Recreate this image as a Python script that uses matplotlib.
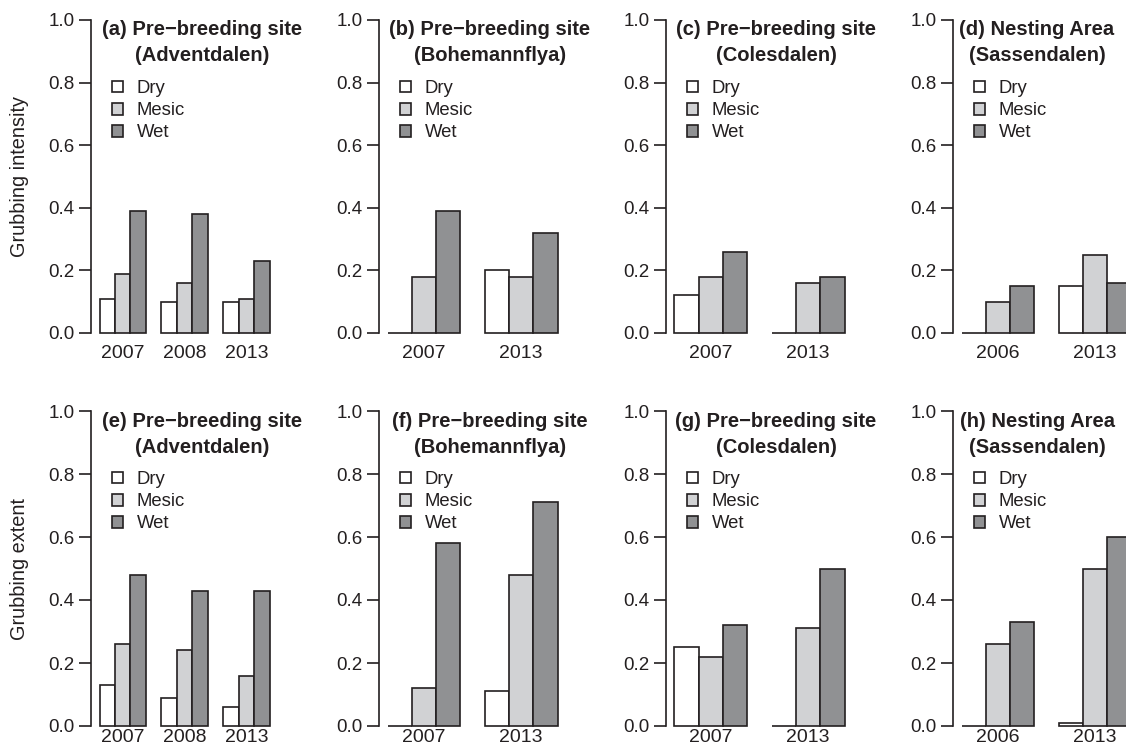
import numpy as np
import matplotlib.pyplot as plt
from matplotlib.patches import Patch

plt.rcParams['font.family'] = ['Liberation Sans', 'DejaVu Sans']

#DATA
habitats = ['Dry', 'Mesic', 'Wet']
hab_colors = ['#ffffff', '#d1d2d4', '#909193']

years_advent = ['2007', '2008', '2013']
years_bohem = ['2007', '2013']
years_coles = ['2007', '2013']
years_sassen = ['2006', '2013']

# each row is one year: [dry, mesic, wet]
intensity_advent = [[0.11, 0.19, 0.39], [0.10, 0.16, 0.38], [0.10, 0.11, 0.23]]
intensity_bohem = [[0.00, 0.18, 0.39], [0.20, 0.18, 0.32]]
intensity_coles = [[0.12, 0.18, 0.26], [0.00, 0.16, 0.18]]
intensity_sassen = [[0.00, 0.10, 0.15], [0.15, 0.25, 0.16]]

extent_advent = [[0.13, 0.26, 0.48], [0.09, 0.24, 0.43], [0.06, 0.16, 0.43]]
extent_bohem = [[0.00, 0.12, 0.58], [0.11, 0.48, 0.71]]
extent_coles = [[0.25, 0.22, 0.32], [0.00, 0.31, 0.50]]
extent_sassen = [[0.00, 0.26, 0.33], [0.01, 0.50, 0.60]]

titles_top = ['(a) Pre\u2212breeding site', '(b) Pre\u2212breeding site',
              '(c) Pre\u2212breeding site', '(d) Nesting Area']
titles_bot = ['(e) Pre\u2212breeding site', '(f) Pre\u2212breeding site',
              '(g) Pre\u2212breeding site', '(h) Nesting Area']
sites = ['(Adventdalen)', '(Bohemannflya)', '(Colesdalen)', '(Sassendalen)']

#LAYOUT (pixels)
W, H = 1126, 752
ink = '#231f20'
spine_x = [91, 379, 666, 953]
title_dx = [111, 111, 110, 84]
row_zero = [333, 726]
row_one = [20, 411]
row_xpad = [9.0, 2.5]
ax_w = 180
pt = 72 / 100.0


def draw_panel(left, zero_px, one_px, years, values, title, site, tdx, xpad):
    ax = plt.gcf().add_axes([left / W, 1 - zero_px / H, ax_w / W, (zero_px - one_px) / H])
    vals = np.array(values)
    n = len(years)
    ppu = 170.0 / (4 * n - 1)
    for j in range(3):
        xpos = [4 * i + j + 0.5 for i in range(n)]
        ax.bar(xpos, vals[:, j], width=1, color=hab_colors[j], edgecolor=ink,
               linewidth=1.2, clip_on=False, zorder=3)
    ax.set_xlim(-8.5 / ppu, (ax_w - 8.5) / ppu)
    ax.set_ylim(0, 1)
    ax.set_xticks([4 * i + 1.5 for i in range(n)])
    ax.set_xticklabels(years)
    ax.set_yticks(np.arange(0, 1.01, 0.2))
    ax.set_yticklabels(['%.1f' % v for v in np.arange(0, 1.01, 0.2)])
    for s in ['top', 'right', 'bottom']:
        ax.spines[s].set_visible(False)
    ax.spines['left'].set_linewidth(1.2)
    ax.spines['left'].set_color(ink)
    ax.spines['left'].set_bounds(0, 1)
    ax.tick_params(axis='y', length=9, width=1.2, pad=3.0, labelsize=13.5,
                   color=ink, labelcolor=ink)
    ax.tick_params(axis='x', length=0, pad=xpad, labelsize=14, labelcolor=ink)
    ax.patch.set_visible(False)
    ax.annotate(title, xy=(0, 1), xycoords='axes fraction', xytext=(tdx * pt, -10 * pt),
                textcoords='offset points', ha='center', va='center',
                fontsize=14.5, fontweight='bold', color=ink)
    ax.annotate(site, xy=(0, 1), xycoords='axes fraction', xytext=(tdx * pt, -36 * pt),
                textcoords='offset points', ha='center', va='center',
                fontsize=14.5, fontweight='bold', color=ink)
    handles = [Patch(facecolor=hab_colors[j], edgecolor=ink, linewidth=1.2, label=habitats[j])
               for j in range(3)]
    hpx = zero_px - one_px
    ax.legend(handles=handles, loc='upper left', bbox_to_anchor=(21 / ax_w, 1 - 60 / hpx),
              frameon=False, borderaxespad=0, borderpad=0, handlelength=0.6,
              handleheight=0.6, handletextpad=0.75, labelspacing=0.28,
              fontsize=13.3, labelcolor=ink)
    return ax


fig = plt.figure(figsize=(11.26, 7.52), dpi=100)

top_data = [(years_advent, intensity_advent), (years_bohem, intensity_bohem),
            (years_coles, intensity_coles), (years_sassen, intensity_sassen)]
bot_data = [(years_advent, extent_advent), (years_bohem, extent_bohem),
            (years_coles, extent_coles), (years_sassen, extent_sassen)]

for k in range(4):
    yrs, v = top_data[k]
    draw_panel(spine_x[k], row_zero[0], row_one[0], yrs, v, titles_top[k], sites[k],
               title_dx[k], row_xpad[0])
    yrs, v = bot_data[k]
    draw_panel(spine_x[k], row_zero[1], row_one[1], yrs, v, titles_bot[k], sites[k],
               title_dx[k], row_xpad[1])

fig.text(20 / W, 1 - (row_zero[0] + row_one[0]) / 2 / H, 'Grubbing intensity', rotation=90,
         ha='center', va='center', fontsize=14.3, color=ink)
fig.text(20 / W, 1 - (row_zero[1] + row_one[1]) / 2 / H, 'Grubbing extent', rotation=90,
         ha='center', va='center', fontsize=14.3, color=ink)

fig.savefig('out.png', dpi=100)
